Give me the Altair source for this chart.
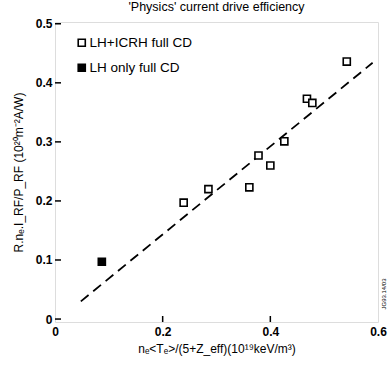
import altair as alt
import pandas as pd

# Data
open_x = [0.239, 0.285, 0.361, 0.378, 0.400, 0.426, 0.468, 0.478, 0.542]
open_y = [0.197, 0.220, 0.223, 0.277, 0.260, 0.301, 0.373, 0.366, 0.436]
filled_x = [0.087]
filled_y = [0.097]
fit_x = [0.048, 0.590]
fit_y = [0.030, 0.434]
series_names = ["LH+ICRH full CD", "LH only full CD"]
x_ticks = [0, 0.2, 0.4, 0.6]
y_ticks = [0, 0.1, 0.2, 0.3, 0.4, 0.5]

FONT = "Liberation Sans"

pts = pd.DataFrame(
    {"x": open_x + filled_x,
     "y": open_y + filled_y,
     "series": [series_names[0]] * len(open_x) + [series_names[1]] * len(filled_x)}
)
fit = pd.DataFrame({"x": fit_x, "y": fit_y})
yt = pd.DataFrame({"y": y_ticks})
xt = pd.DataFrame({"x": x_ticks[1:-1]})

xscale = alt.Scale(domain=[0, 0.6], nice=False, zero=False)
yscale = alt.Scale(domain=[-0.005, 0.503], nice=False, zero=False)

lab_expr = "datum.value == 0 ? '0' : format(datum.value, '.1f')"

xaxis = alt.Axis(values=x_ticks, labelExpr=lab_expr, ticks=False, domain=False, grid=False,
                 title="nₑ<Tₑ>/(5+Z_eff)(10¹⁹keV/m³)", titleFont=FONT, titleFontSize=12,
                 titleFontWeight="normal", titleColor="black", titlePadding=6,
                 labelFont=FONT, labelFontSize=12, labelFontWeight="bold", labelColor="black",
                 labelPadding=4, labelFlush=False)
yaxis = alt.Axis(values=y_ticks, labelExpr=lab_expr, ticks=False, domain=False, grid=False,
                 title="R.nₑ.I_RF/P_RF (10²⁰m⁻²A/W)", titleFont=FONT, titleFontSize=12,
                 titleFontWeight="normal", titleColor="black", titlePadding=10,
                 labelFont=FONT, labelFontSize=12, labelFontWeight="bold", labelColor="black",
                 labelPadding=3, labelFlush=False)

points = alt.Chart(pts).mark_point(shape="square", size=50, strokeWidth=1.6, opacity=1,
                                   stroke="black").encode(
    x=alt.X("x:Q", scale=xscale, axis=xaxis),
    y=alt.Y("y:Q", scale=yscale, axis=yaxis),
    fill=alt.Fill("series:N",
                  scale=alt.Scale(domain=series_names, range=["white", "black"]),
                  legend=alt.Legend(title=None, orient="none", legendX=20, legendY=14,
                                    symbolType="square", symbolSize=50,
                                    symbolStrokeColor="black", symbolStrokeWidth=1.6,
                                    symbolOpacity=1,
                                    labelFont=FONT, labelFontSize=13.5, labelColor="black",
                                    labelOffset=1, rowPadding=10, padding=0)),
)

line = alt.Chart(fit).mark_line(color="black", strokeWidth=1.8, strokeDash=[10, 6]).encode(
    x=alt.X("x:Q", scale=xscale),
    y=alt.Y("y:Q", scale=yscale),
)

ytick_rules = alt.Chart(yt).mark_rule(color="black", strokeWidth=1.5).encode(
    y=alt.Y("y:Q", scale=yscale),
    x=alt.value(0), x2=alt.value(6),
)
xtick_rules = alt.Chart(xt).mark_rule(color="black", strokeWidth=1.5).encode(
    x=alt.X("x:Q", scale=xscale),
    y=alt.value(300), y2=alt.value(294),
)

idtext = alt.Chart(pd.DataFrame({"t": ["JG93.14/03"]})).mark_text(
    angle=270, fontSize=6, font=FONT, color="black", align="center", baseline="middle"
).encode(text="t:N", x=alt.value(329), y=alt.value(272))

chart = alt.layer(line, ytick_rules, xtick_rules, points, idtext).properties(
    width=323, height=300,
    title=alt.Title("'Physics' current drive efficiency", font=FONT, fontSize=12.5,
                    fontWeight="normal", color="black", offset=4),
    autosize=alt.AutoSizeParams(type="none"),
    padding={"left": 55, "top": 22, "right": 13, "bottom": 43},
).configure_view(stroke="black", strokeWidth=1.5).configure(background="white")

chart.save("out.html", embed_options={"renderer": "svg", "actions": False})
